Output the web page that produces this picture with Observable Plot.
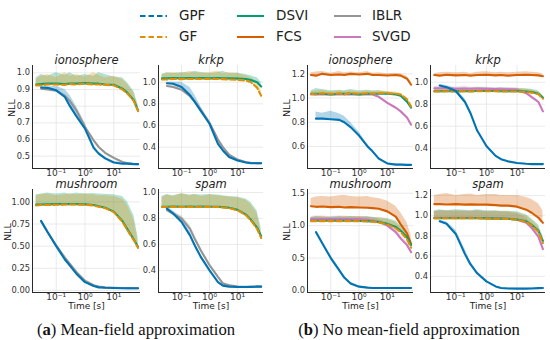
<!DOCTYPE html>
<html><head><meta charset="utf-8">
<script src="https://cdn.jsdelivr.net/npm/d3@7"></script>
<script src="https://cdn.jsdelivr.net/npm/@observablehq/plot@0.6"></script>
<style>
body{margin:0;background:#fff;}
#root{position:relative;width:550px;height:340px;overflow:hidden;font-family:"DejaVu Sans",sans-serif;background:#fff;}
.cap{position:absolute;font-family:"Liberation Serif",serif;font-size:16.6px;line-height:1;color:#111;white-space:nowrap;transform:translate(-50%,-50%);}
.leg{position:absolute;font-size:13.5px;line-height:1;color:#222;white-space:nowrap;transform:translateY(-50%);}
</style></head><body><div id="root"></div>
<script>
// ---- time grid (s) ----
const T = [0.02, 0.03, 0.05, 0.1, 0.2, 0.3, 0.5, 1, 2, 3, 5, 10, 20, 30, 50, 70];

// ---- (a) ionosphere ----
const aIon_GPF    = [null,.912,.91,.895,.855,.80,.74,.665,.55,.515,.487,.462,.455,.455,.452,.452];
const aIon_GPF_hi = [null,.915,.915,.92,.90,.865,.80,.70,.57,.525,.495,.468,.46,.46,.456,.456];
const aIon_IBLR   = [null,.905,.90,.893,.862,.83,.775,.675,.595,.555,.52,.49,.465,.457,.453,.452];
const aIon_IBLR_hi= [null,.91,.905,.90,.87,.84,.785,.685,.60,.56,.525,.495,.47,.46,.456,.455];
const aIon_GF     = [.925,.925,.93,.93,.928,.932,.93,.935,.93,.93,.928,.925,.90,.875,.83,.77];
const aIon_GF_hi  = [.96,.98,.99,.97,1.0,.98,.99,.975,1.0,.985,.97,.98,.96,.93,.88,.80];
const aIon_DSVI   = [.93,.932,.935,.935,.932,.935,.935,.938,.935,.935,.93,.928,.905,.88,.835,.775];
const aIon_DSVI_hi= [.97,.99,.98,1.0,.985,1.0,.98,.99,.98,1.0,.99,.975,.97,.94,.89,.81];

// ---- (a) krkp ----
const aKrkp_GPF    = [null,.99,.985,.955,.88,.815,.73,.616,.43,.37,.31,.277,.258,.252,.252,.252];
const aKrkp_GPF_hi = [null,1.0,1.0,1.0,.95,.88,.77,.64,.445,.38,.315,.28,.262,.256,.256,.256];
const aKrkp_IBLR   = [null,.965,.955,.93,.87,.82,.74,.625,.47,.40,.33,.285,.26,.255,.253,.253];
const aKrkp_IBLR_hi= [null,.975,.97,.95,.89,.84,.76,.64,.48,.41,.335,.29,.265,.258,.256,.256];
const aKrkp_GF     = [1.025,1.025,1.03,1.028,1.03,1.03,1.03,1.03,1.03,1.028,1.025,1.022,1.015,1.0,.95,.875];
const aKrkp_GF_hi  = [1.07,1.08,1.09,1.08,1.1,1.09,1.085,1.09,1.1,1.08,1.09,1.08,1.06,1.04,1.0,.93];
const aKrkp_DSVI   = [1.035,1.035,1.038,1.035,1.037,1.036,1.038,1.035,1.037,1.036,1.035,1.033,1.03,1.02,1.0,.96];
const aKrkp_DSVI_hi= [1.07,1.09,1.08,1.09,1.085,1.1,1.09,1.08,1.09,1.1,1.08,1.085,1.07,1.06,1.04,1.0];

// ---- (a) mushroom ----
const aMush_GPF    = [null,.785,.66,.50,.35,.28,.19,.094,.05,.035,.03,.027,.025,.025,.025,.025];
const aMush_GPF_hi = [null,.80,.68,.52,.37,.295,.20,.10,.055,.04,.033,.03,.028,.028,.028,.028];
const aMush_IBLR   = [null,.78,.66,.51,.37,.30,.21,.11,.06,.045,.035,.03,.027,.026,.025,.025];
const aMush_IBLR_hi= [null,.79,.67,.52,.38,.31,.22,.115,.065,.048,.037,.032,.029,.028,.027,.027];
const aMush_GF     = [.96,.965,.965,.968,.97,.97,.97,.968,.96,.945,.93,.885,.775,.68,.566,.48];
const aMush_GF_hi  = [1.07,1.08,1.09,1.07,1.08,1.09,1.08,1.09,1.08,1.07,1.07,1.06,1.03,.96,.80,.56];
const aMush_DSVI   = [.97,.97,.972,.975,.975,.975,.975,.972,.965,.95,.935,.89,.785,.69,.575,.49];
const aMush_DSVI_hi= [1.08,1.09,1.1,1.09,1.1,1.085,1.1,1.09,1.095,1.09,1.085,1.08,1.06,1.0,.85,.60];

// ---- (a) spam ----
const aSpam_GPF    = [null,.876,.838,.773,.67,.59,.50,.40,.31,.283,.275,.272,.272,.273,.275,.275];
const aSpam_GPF_hi = [null,.89,.86,.80,.70,.61,.515,.41,.315,.288,.278,.275,.275,.276,.278,.278];
const aSpam_IBLR   = [null,.865,.835,.80,.72,.64,.55,.44,.35,.30,.285,.275,.273,.273,.275,.275];
const aSpam_IBLR_hi= [null,.875,.85,.82,.75,.67,.57,.455,.36,.31,.29,.28,.277,.277,.279,.279];
const aSpam_GF     = [.888,.888,.89,.888,.89,.888,.89,.889,.888,.885,.88,.863,.825,.786,.72,.65];
const aSpam_GF_hi  = [.96,.98,.97,.99,.975,.985,.97,.98,.975,.97,.965,.96,.94,.91,.84,.70];
const aSpam_DSVI   = [.89,.89,.892,.89,.892,.89,.892,.89,.89,.887,.882,.866,.83,.79,.73,.665];
const aSpam_DSVI_hi= [.97,.985,.975,.99,.98,.985,.98,.985,.98,.975,.97,.965,.95,.925,.86,.73];

// ---- (b) ionosphere ----
const bIon_FCS     = [1.19,1.185,1.2,1.19,1.195,1.19,1.2,1.195,1.2,1.19,1.19,1.186,1.19,1.185,1.16,1.11];
const bIon_FCS_hi  = [1.21,1.215,1.22,1.205,1.22,1.21,1.215,1.21,1.22,1.205,1.21,1.2,1.205,1.2,1.18,1.13];
const bIon_SVGD    = [1.03,1.03,1.03,1.03,1.03,1.03,1.03,1.03,1.03,1.03,1.01,.96,.92,.89,.84,.78];
const bIon_SVGD_hi = [1.04,1.04,1.04,1.04,1.04,1.04,1.04,1.04,1.04,1.04,1.02,.97,.93,.90,.85,.79];
const bIon_GF      = [1.035,1.03,1.04,1.035,1.038,1.03,1.04,1.035,1.04,1.035,1.04,1.04,1.035,1.03,.99,.93];
const bIon_GF_hi   = [1.05,1.06,1.065,1.05,1.06,1.055,1.06,1.05,1.06,1.055,1.06,1.055,1.05,1.04,1.0,.94];
const bIon_DSVI    = [1.035,1.035,1.035,1.03,1.035,1.035,1.035,1.03,1.035,1.035,1.035,1.035,1.03,1.02,.97,.92];
const bIon_DSVI_hi = [1.06,1.08,1.07,1.06,1.065,1.06,1.07,1.06,1.065,1.06,1.06,1.05,1.04,1.03,.98,.93];
const bIon_GPF     = [null,.83,.83,.825,.82,.80,.76,.69,.60,.56,.50,.46,.45,.45,.448,.448];
const bIon_GPF_hi  = [null,.885,.875,.89,.87,.85,.80,.72,.62,.57,.51,.465,.455,.455,.452,.452];

// ---- (b) krkp ----
const bKrkp_FCS     = [1.065,1.06,1.068,1.062,1.065,1.06,1.065,1.068,1.062,1.065,1.06,1.065,1.068,1.065,1.062,1.055];
const bKrkp_FCS_hi  = [1.08,1.085,1.09,1.085,1.09,1.08,1.09,1.095,1.085,1.09,1.085,1.09,1.095,1.09,1.085,1.075];
const bKrkp_SVGD    = [.945,.945,.943,.94,.94,.94,.94,.938,.938,.936,.935,.93,.90,.865,.82,.735];
const bKrkp_SVGD_hi = [.96,.965,.96,.955,.96,.955,.955,.955,.95,.95,.95,.945,.915,.88,.835,.75];
const bKrkp_GF      = [.915,.915,.918,.915,.918,.916,.918,.918,.918,.916,.915,.915,.91,.905,.89,.85];
const bKrkp_GF_hi   = [.94,.945,.95,.94,.945,.94,.95,.945,.94,.945,.94,.94,.935,.93,.915,.87];
const bKrkp_DSVI    = [.918,.918,.92,.918,.92,.918,.92,.92,.92,.918,.918,.918,.915,.91,.895,.86];
const bKrkp_DSVI_hi = [.945,.95,.955,.945,.95,.945,.95,.95,.945,.95,.945,.945,.94,.935,.92,.88];
const bKrkp_GPF     = [null,.97,.955,.92,.82,.72,.56,.42,.33,.30,.28,.265,.258,.255,.255,.255];
const bKrkp_GPF_hi  = [null,.98,.97,.94,.85,.74,.575,.43,.335,.305,.283,.268,.26,.258,.258,.258];

// ---- (b) mushroom ----
const bMush_FCS     = [1.30,1.29,1.295,1.285,1.29,1.28,1.285,1.28,1.275,1.27,1.26,1.22,1.14,1.02,.88,.72];
const bMush_FCS_hi  = [1.42,1.44,1.45,1.44,1.46,1.47,1.45,1.44,1.45,1.43,1.42,1.38,1.30,1.20,1.05,.85];
const bMush_SVGD    = [1.10,1.10,1.10,1.10,1.10,1.10,1.10,1.10,1.09,1.08,1.06,1.0,.9,.8,.7,.59];
const bMush_SVGD_hi = [1.14,1.15,1.15,1.14,1.15,1.15,1.14,1.14,1.13,1.12,1.10,1.04,.95,.85,.75,.63];
const bMush_GF      = [1.07,1.07,1.07,1.07,1.07,1.07,1.07,1.068,1.065,1.06,1.05,1.02,.96,.90,.79,.66];
const bMush_GF_hi   = [1.12,1.13,1.14,1.12,1.13,1.14,1.13,1.14,1.13,1.12,1.12,1.10,1.05,.98,.86,.72];
const bMush_DSVI    = [1.075,1.075,1.075,1.075,1.075,1.075,1.075,1.072,1.07,1.065,1.055,1.03,.98,.92,.82,.70];
const bMush_DSVI_hi = [1.12,1.14,1.13,1.13,1.14,1.13,1.14,1.13,1.14,1.13,1.12,1.11,1.07,1.0,.89,.76];
const bMush_GPF     = [null,.90,.73,.50,.31,.20,.11,.06,.045,.04,.04,.04,.04,.04,.04,.04];
const bMush_GPF_hi  = [null,.91,.76,.54,.35,.23,.13,.07,.05,.045,.044,.044,.044,.044,.044,.044];

// ---- (b) spam ----
const bSpam_FCS     = [1.115,1.115,1.112,1.115,1.11,1.113,1.11,1.11,1.105,1.10,1.10,1.09,1.06,1.03,.98,.93];
const bSpam_FCS_hi  = [1.2,1.21,1.22,1.2,1.21,1.215,1.2,1.21,1.21,1.2,1.2,1.2,1.18,1.16,1.12,1.05];
const bSpam_SVGD    = [.98,.98,.98,.98,.98,.98,.978,.976,.975,.972,.97,.96,.93,.88,.79,.67];
const bSpam_SVGD_hi = [1.04,1.05,1.05,1.045,1.05,1.045,1.05,1.04,1.04,1.04,1.035,1.02,.98,.92,.83,.70];
const bSpam_GF      = [.975,.975,.975,.975,.975,.975,.975,.972,.97,.97,.968,.96,.94,.905,.84,.73];
const bSpam_GF_hi   = [1.04,1.05,1.045,1.05,1.04,1.045,1.05,1.04,1.045,1.04,1.04,1.03,1.0,.96,.89,.77];
const bSpam_DSVI    = [.975,.975,.976,.975,.976,.975,.976,.974,.972,.972,.97,.962,.945,.91,.85,.75];
const bSpam_DSVI_hi = [1.05,1.06,1.05,1.06,1.055,1.05,1.06,1.05,1.05,1.045,1.045,1.04,1.01,.97,.91,.80];
const bSpam_GPF     = [null,.945,.92,.82,.62,.52,.43,.35,.30,.285,.28,.278,.278,.28,.283,.285];
const bSpam_GPF_hi  = [null,.955,.94,.86,.67,.55,.45,.36,.305,.29,.285,.282,.282,.284,.287,.289];

// ---- ticks / labels ----
const xTicks = [0.1, 1, 10];
const xTickLabels = ["10⁻¹", "10⁰", "10¹"];
const legendNames = ["GPF", "GF", "DSVI", "FCS", "IBLR", "SVGD"];
const COLORS = {GPF:"#0173B2", GF:"#DE8F05", DSVI:"#029E73", FCS:"#D55E00", IBLR:"#949494", SVGD:"#CC78BC"};

// ---- layout (pixels) ----
const COLS = [{L:32,R:140},{L:158,R:263},{L:307,R:413},{L:430,R:545}];
const ROWS = [{T:65,B:168},{T:189,B:292}];
const XDOM = [0.015, 85];

const panels = [
  {c:0,r:0,title:"ionosphere",ydom:[0.426,1.044],yt:[0.5,0.6,0.7,0.8,0.9,1.0],fmt:".1f",
   s:{IBLR:[aIon_IBLR,aIon_IBLR_hi],DSVI:[aIon_DSVI,aIon_DSVI_hi],GF:[aIon_GF,aIon_GF_hi],GPF:[aIon_GPF,aIon_GPF_hi]}},
  {c:1,r:0,title:"krkp",ydom:[0.203,1.154],yt:[0.4,0.6,0.8,1.0],fmt:".1f",
   s:{IBLR:[aKrkp_IBLR,aKrkp_IBLR_hi],DSVI:[aKrkp_DSVI,aKrkp_DSVI_hi],GF:[aKrkp_GF,aKrkp_GF_hi],GPF:[aKrkp_GPF,aKrkp_GPF_hi]}},
  {c:0,r:1,title:"mushroom",ydom:[-0.023,1.14],yt:[0,0.25,0.5,0.75,1.0],fmt:".2f",
   s:{IBLR:[aMush_IBLR,aMush_IBLR_hi],DSVI:[aMush_DSVI,aMush_DSVI_hi],GF:[aMush_GF,aMush_GF_hi],GPF:[aMush_GPF,aMush_GPF_hi]}},
  {c:1,r:1,title:"spam",ydom:[0.23,1.023],yt:[0.4,0.6,0.8,1.0],fmt:".1f",
   s:{IBLR:[aSpam_IBLR,aSpam_IBLR_hi],DSVI:[aSpam_DSVI,aSpam_DSVI_hi],GF:[aSpam_GF,aSpam_GF_hi],GPF:[aSpam_GPF,aSpam_GPF_hi]}},
  {c:2,r:0,title:"ionosphere",ydom:[0.418,1.269],yt:[0.6,0.8,1.0,1.2],fmt:".1f",
   s:{SVGD:[bIon_SVGD,bIon_SVGD_hi],FCS:[bIon_FCS,bIon_FCS_hi],DSVI:[bIon_DSVI,bIon_DSVI_hi],GF:[bIon_GF,bIon_GF_hi],GPF:[bIon_GPF,bIon_GPF_hi]}},
  {c:3,r:0,title:"krkp",ydom:[0.215,1.152],yt:[0.4,0.6,0.8,1.0],fmt:".1f",
   s:{SVGD:[bKrkp_SVGD,bKrkp_SVGD_hi],FCS:[bKrkp_FCS,bKrkp_FCS_hi],DSVI:[bKrkp_DSVI,bKrkp_DSVI_hi],GF:[bKrkp_GF,bKrkp_GF_hi],GPF:[bKrkp_GPF,bKrkp_GPF_hi]}},
  {c:2,r:1,title:"mushroom",ydom:[-0.03,1.557],yt:[0,0.5,1.0,1.5],fmt:".1f",
   s:{SVGD:[bMush_SVGD,bMush_SVGD_hi],FCS:[bMush_FCS,bMush_FCS_hi],DSVI:[bMush_DSVI,bMush_DSVI_hi],GF:[bMush_GF,bMush_GF_hi],GPF:[bMush_GPF,bMush_GPF_hi]}},
  {c:3,r:1,title:"spam",ydom:[0.24,1.26],yt:[0.4,0.6,0.8,1.0,1.2],fmt:".1f",
   s:{SVGD:[bSpam_SVGD,bSpam_SVGD_hi],FCS:[bSpam_FCS,bSpam_FCS_hi],DSVI:[bSpam_DSVI,bSpam_DSVI_hi],GF:[bSpam_GF,bSpam_GF_hi],GPF:[bSpam_GPF,bSpam_GPF_hi]}}
];

const root = document.getElementById("root");
const mL = 30, mR = 5, mT = 22, mB = 22;

for (const p of panels) {
  const col = COLS[p.c], row = ROWS[p.r];
  const W = mL + (col.R - col.L) + mR, H = mT + (row.B - row.T) + mB;
  const bands = [], lines = [];
  for (const [name, [vals, his]] of Object.entries(p.s)) {
    const rows = T.map((t, i) => ({t, v: vals[i], hi: his[i]})).filter(d => d.v != null);
    bands.push(Plot.areaY(rows, {x: "t", y1: "v", y2: "hi", fill: COLORS[name], fillOpacity: 0.3}));
    lines.push(Plot.lineY(rows, {x: "t", y: "v", stroke: COLORS[name], strokeWidth: 2.1,
      strokeDasharray: name === "GF" ? "5.5,3" : null}));
  }
  const fmt = d3.format(p.fmt);
  const marks = [
    Plot.gridX(xTicks, {stroke: "#e4e4e4", strokeOpacity: 1, strokeWidth: 0.8}),
    Plot.gridY(p.yt, {stroke: "#e4e4e4", strokeOpacity: 1, strokeWidth: 0.8}),
    ...bands, ...lines,
    Plot.ruleX([XDOM[0]], {stroke: "#2a2a2a", strokeWidth: 1}),
    Plot.ruleY([p.ydom[0]], {stroke: "#2a2a2a", strokeWidth: 1}),
    Plot.axisX(xTicks, {tickSize: 0, tickPadding: 1, fontSize: 9, label: null,
      tickFormat: d => xTickLabels[xTicks.indexOf(d)]}),
    Plot.axisY(p.yt, {tickSize: 0, tickPadding: 2.5, fontSize: 8.3, label: null, tickFormat: fmt}),
    Plot.text([p.title], {frameAnchor: "top", dy: -2, lineAnchor: "bottom", fontSize: 11.5, fontStyle: "italic", fill: "#222"})
  ];
  if (p.c === 0 || p.c === 2) marks.push(Plot.text(["NLL"], {frameAnchor: "left", rotate: -90,
    dx: p.fmt === ".2f" ? -25 : -21, fontSize: 9.5, fill: "#222"}));
  if (p.r === 1) marks.push(Plot.text(["Time [s]"], {frameAnchor: "bottom", dy: 16, fontSize: 9, fill: "#222"}));
  const svg = Plot.plot({
    width: W, height: H, marginLeft: mL, marginRight: mR, marginTop: mT, marginBottom: mB,
    x: {type: "log", domain: XDOM},
    y: {domain: p.ydom},
    style: {background: "transparent", overflow: "visible", maxWidth: "none", fontFamily: "DejaVu Sans, sans-serif", color: "#333",
            position: "absolute", left: (col.L - mL) + "px", top: (row.T - mT) + "px"},
    marks
  });
  root.appendChild(svg);
}

// ---- legend ----
const legendPos = {GPF:[140,179,16], GF:[140,179,37], DSVI:[237,276,16], FCS:[237,276,37], IBLR:[334,372,16], SVGD:[334,372,37]};
const ns = "http://www.w3.org/2000/svg";
const lsvg = document.createElementNS(ns, "svg");
lsvg.setAttribute("width", 550); lsvg.setAttribute("height", 50);
lsvg.style.position = "absolute"; lsvg.style.left = "0px"; lsvg.style.top = "0px";
for (const name of legendNames) {
  const [x0, tx, y] = legendPos[name];
  const ln = document.createElementNS(ns, "line");
  ln.setAttribute("x1", x0); ln.setAttribute("x2", x0 + 27); ln.setAttribute("y1", y); ln.setAttribute("y2", y);
  ln.setAttribute("stroke", COLORS[name]); ln.setAttribute("stroke-width", 2);
  if (name === "GPF" || name === "GF") ln.setAttribute("stroke-dasharray", "5.5,3");
  lsvg.appendChild(ln);
  const d = document.createElement("div");
  d.className = "leg"; d.textContent = name; d.style.left = tx + "px"; d.style.top = y + "px";
  root.appendChild(d);
}
root.appendChild(lsvg);

// ---- captions ----
const caps = [["a", " Mean-field approximation", 136], ["b", " No mean-field approximation", 409]];
for (const [letter, text, cx] of caps) {
  const d = document.createElement("div");
  d.className = "cap"; d.style.left = cx + "px"; d.style.top = "330px";
  d.innerHTML = "(<b>" + letter + "</b>)" + text;
  root.appendChild(d);
}
</script></body></html>
